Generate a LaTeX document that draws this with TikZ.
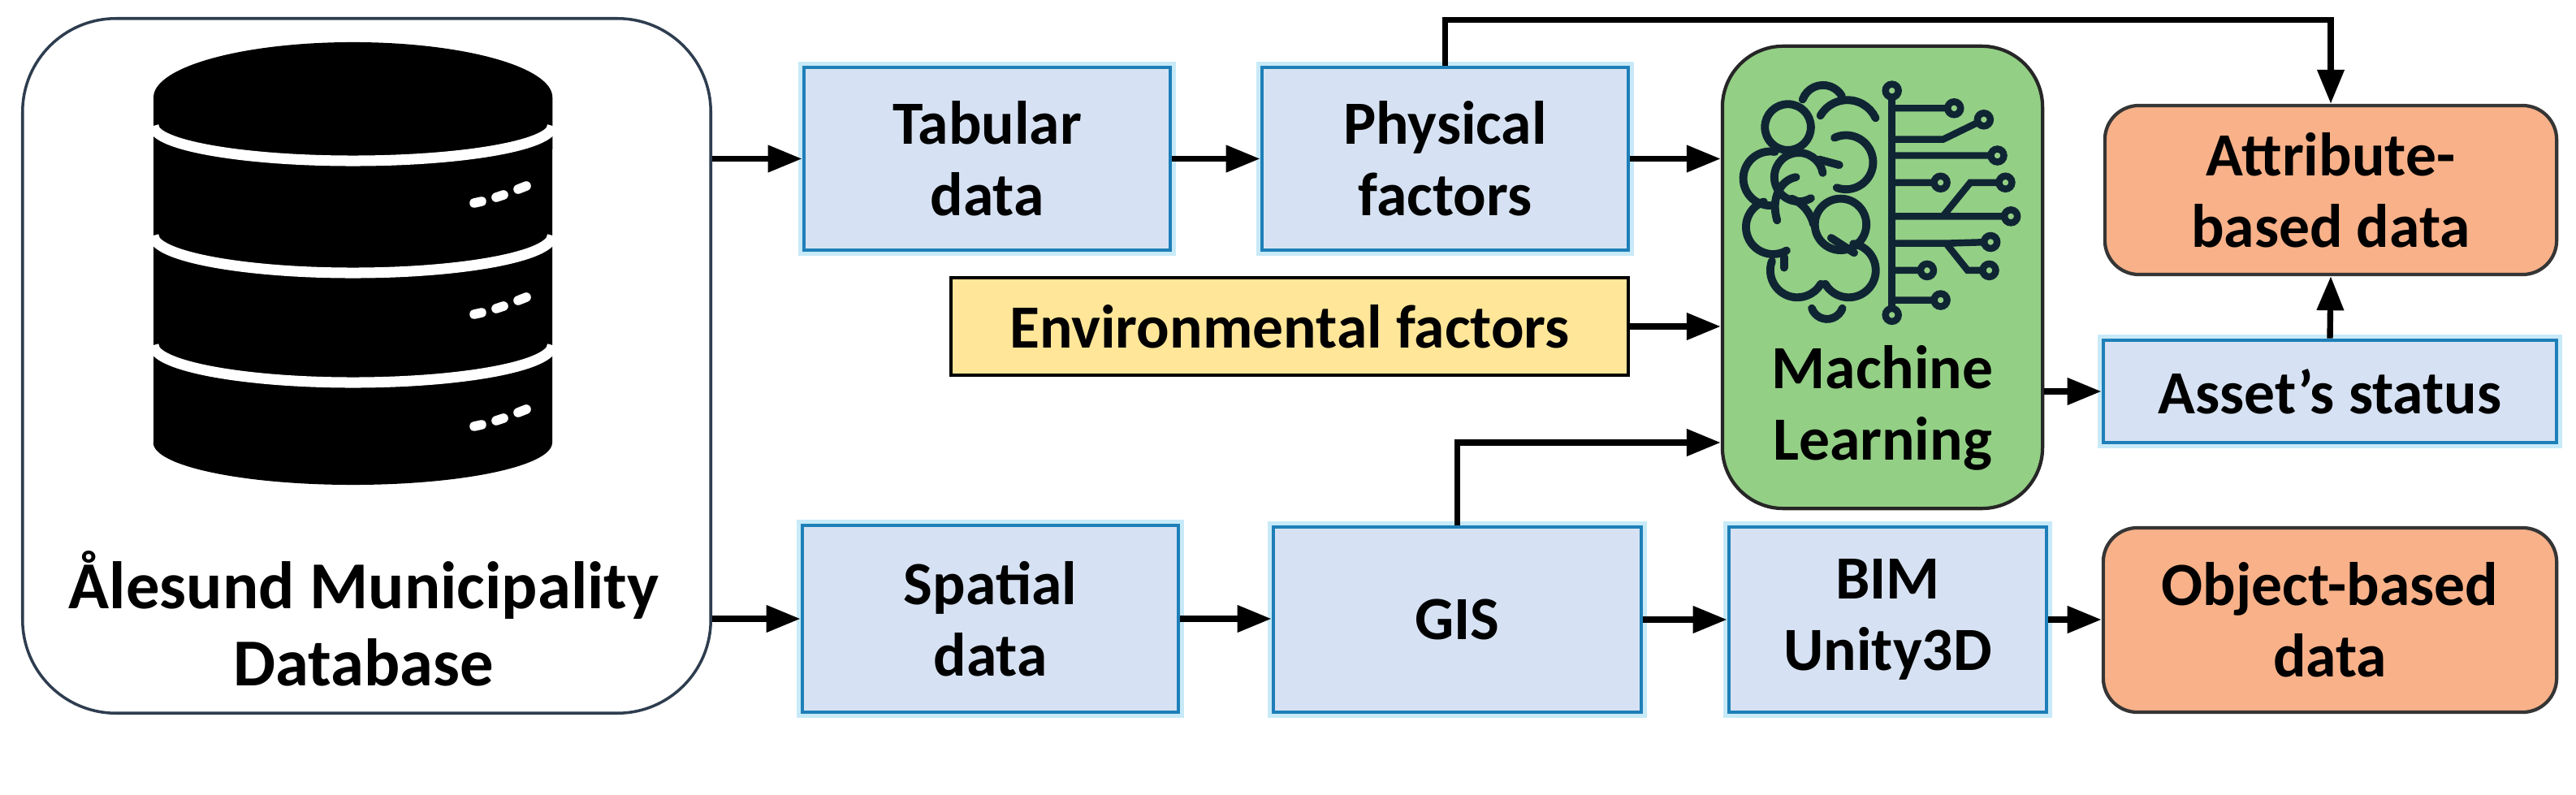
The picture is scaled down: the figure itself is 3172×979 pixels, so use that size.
\documentclass[tikz,border=0pt]{standalone}
\usepackage{fontspec}
\setmainfont{Carlito}
\usetikzlibrary{arrows.meta}
\definecolor{bluefill}{HTML}{D6E2F3}
\definecolor{blueline}{HTML}{1E7FB8}
\definecolor{blueglow}{HTML}{C8EAF8}
\definecolor{yellowfill}{HTML}{FFE699}
\definecolor{mlgreen}{HTML}{93CF85}
\definecolor{orangefill}{HTML}{F8B189}
\definecolor{darkline}{HTML}{353535}
\definecolor{dbline}{HTML}{2E3D4F}
\definecolor{brainink}{HTML}{0F2533}
\tikzset{
  lbl/.style={font=\fontsize{21.5pt}{25pt}\selectfont\bfseries, align=center, inner sep=0pt},
  bluebox/.style={lbl, rectangle, fill=bluefill, draw=blueline, line width=1.3pt,
    preaction={draw=blueglow, line width=4pt}},
  yellowbox/.style={lbl, rectangle, fill=yellowfill, draw=black, line width=1.2pt},
  orangebox/.style={lbl, rectangle, rounded corners=0.42cm, fill=orangefill, draw=darkline, line width=1.2pt},
  mlbox/.style={rectangle, rounded corners=0.75cm, fill=mlgreen, draw=black!85, line width=1.2pt},
  dbbox/.style={rectangle, rounded corners=1.15cm, fill=white, draw=dbline, line width=1pt},
  arr/.style={line width=2.1pt, -{Triangle[length=0.42cm,width=0.32cm]}},
  ink/.style={draw=brainink, line width=2.8pt, line cap=round},
}
\begin{document}
\begin{tikzpicture}[x=0.01cm,y=-0.01cm]
\useasboundingbox (0,0) rectangle (3172,979);

% ---------- database box ----------
\node[dbbox, minimum width=8.47cm, minimum height=8.55cm] (db) at (451.5,450.5) {};
% cylinder icon
\fill[black] (189,545) -- (189,120) arc[start angle=180,end angle=0,x radius=2.455cm,y radius=0.68cm]
  -- (680,545) arc[start angle=0,end angle=-180,x radius=2.455cm,y radius=0.52cm] -- cycle;
\foreach \cy/\ry in {155/0.43, 290/0.46, 425/0.46}{
  \draw[white, line width=3.7pt] (189,\cy) arc[start angle=180,end angle=360,x radius=2.455cm,y radius=\ry cm];
}
\foreach \dy in {0,137,275}{
  \draw[white, line width=3.3pt, line cap=round]
    (584,250+\dy) -- (593,248+\dy)
    (611,243+\dy) -- (620,240+\dy)
    (638,233+\dy) -- (648,229+\dy);
}
\node[lbl, font=\fontsize{23.5pt}{27pt}\selectfont\bfseries] (dbtext) at (448,762) {Ålesund Municipality\\Database};

% ---------- top row ----------
\node[bluebox, minimum width=4.51cm, minimum height=2.25cm] (tab) at (1215.5,195.5) {Tabular\\data};
\node[bluebox, minimum width=4.51cm, minimum height=2.25cm] (phys) at (1779.5,195.5) {Physical\\factors};
\node[yellowbox, minimum width=8.34cm, minimum height=1.2cm] (env) at (1588,402) {Environmental factors};

% ---------- machine learning ----------
\node[mlbox, minimum width=3.94cm, minimum height=5.69cm] (ml) at (2318,341.5) {};
\node[lbl] (mltext) at (2318,502) {Machine\\Learning};

% brain icon
\begin{scope}[shift={(2130,90)}, x=0.003333cm, y=-0.003333cm]
  \draw[ink] (215,200) circle[radius=0.283cm];
  \draw[ink] (345,125) ++(160:0.267cm) arc[start angle=160,end angle=30,radius=0.267cm];
  \draw[ink] (435,215) ++(150:0.383cm) arc[start angle=150,end angle=25,radius=0.383cm];
  \draw[ink] (430,330) ++(115:0.333cm) arc[start angle=115,end angle=-110,radius=0.333cm];
  \draw[ink] (150,390) ++(80:0.333cm) arc[start angle=80,end angle=270,radius=0.333cm];
  \draw[ink] (255,385) ++(10:0.3cm) arc[start angle=10,end angle=300,radius=0.3cm];
  \draw[ink] (160,570) ++(110:0.333cm) arc[start angle=110,end angle=300,radius=0.333cm];
  \draw[ink] (410,560) circle[radius=0.317cm];
  \draw[ink] (250,730) ++(160:0.333cm) arc[start angle=160,end angle=330,radius=0.333cm];
  \draw[ink] (440,730) ++(80:0.333cm) arc[start angle=80,end angle=-150,radius=0.333cm];
  \draw[ink] (360,850) ++(200:0.2cm) arc[start angle=200,end angle=340,radius=0.2cm];
  \draw[ink] (175,545) .. controls (150,460) and (190,395) .. (245,385);
  \draw[ink] (230,465) .. controls (270,480) and (300,520) .. (310,560);
  \draw[ink] (330,320) -- (405,340);
  \draw[ink] (375,610) -- (460,665);
  \draw[ink] (200,680) -- (200,720);
  % circuit
  \draw[ink, line width=2.4pt] (600,65) -- (600,895);
  \draw[ink, line width=2.4pt]
    (600,130) -- (830,130)
    (600,245) -- (790,245) -- (940,172)
    (600,305) -- (990,305)
    (600,405) -- (780,405)
    (600,530) -- (1040,530)
    (790,528) -- (890,405) -- (1020,405)
    (600,630) -- (800,630) -- (965,625)
    (800,630) -- (880,730) -- (960,730)
    (600,730) -- (730,730)
    (600,840) -- (780,840);
  \foreach \p in {(600,65),(600,895),(830,130),(940,172),(990,305),(780,405),(1040,530),(1020,405),(965,625),(960,730),(730,730),(780,840)}{
    \draw[ink, line width=2.4pt, fill=mlgreen] \p circle[radius=0.08cm];
  }
\end{scope}

% ---------- right column ----------
\node[orangebox, minimum width=5.56cm, minimum height=2.08cm] (attr) at (2870,234) {Attribute-\\based data};
\node[bluebox, minimum width=5.58cm, minimum height=1.26cm] (asset) at (2869,482) {Asset’s status};

% ---------- bottom row ----------
\node[bluebox, minimum width=4.63cm, minimum height=2.3cm] (spat) at (1219.5,762) {Spatial\\data};
\node[bluebox, minimum width=4.53cm, minimum height=2.28cm] (gis) at (1794.5,763) {GIS};
\node[bluebox, minimum width=3.91cm, minimum height=2.28cm] (bim) at (2324.5,763) {BIM\\Unity3D};
\node[orangebox, minimum width=5.58cm, minimum height=2.27cm] (obj) at (2869,763.5) {Object-based\\data};

% ---------- connectors ----------
\draw[arr] (db.east |- tab.west) -- (tab.west);
\draw[arr] (db.east |- spat.west) -- (spat.west);
\draw[arr] (tab.east) -- (phys.west);
\draw[arr] (phys.east) -- (phys.east -| ml.west);
\draw[arr] (env.east) -- (env.east -| ml.west);
\draw[arr] (gis.north) |- (ml.west |- 0,545);
\draw[arr] (phys.north) -- ++(0,-56) -| (attr.north);
\draw[arr] (ml.east |- asset.west) -- (asset.west);
\draw[arr] (asset.north) -- (attr.south);
\draw[arr] (spat.east) -- (spat.east -| gis.west);
\draw[arr] (gis.east) -- (bim.west);
\draw[arr] (bim.east) -- (bim.east -| obj.west);
\end{tikzpicture}
\end{document}
